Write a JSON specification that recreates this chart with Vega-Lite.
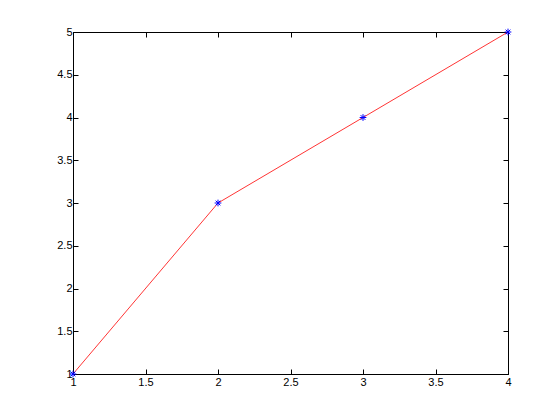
{
  "$schema": "https://vega.github.io/schema/vega-lite/v6.json",
  "autosize": "none",
  "padding": {"left": 73, "top": 32, "right": 52, "bottom": 46},
  "width": 435,
  "height": 342,
  "background": "white",
  "config": {
    "view": {"stroke": "black", "strokeWidth": 1},
    "axis": {
      "grid": false,
      "domainColor": "black",
      "tickColor": "black",
      "labelColor": "black",
      "labelFont": "Liberation Sans",
      "labelFontSize": 11,
      "tickSize": -5,
      "labelFlush": false,
      "labelOverlap": false,
      "format": "~g",
      "title": null
    }
  },
  "data": {"values": [
    {"x": 1, "y": 1},
    {"x": 2, "y": 3},
    {"x": 3, "y": 4},
    {"x": 4, "y": 5}
  ]},
  "layer": [
    {
      "mark": {"type": "line", "color": "#ff0000", "strokeWidth": 0.8},
      "encoding": {
        "x": {"field": "x", "type": "quantitative", "scale": {"domain": [1, 4], "nice": false, "zero": false},
              "axis": {"values": [1, 1.5, 2, 2.5, 3, 3.5, 4], "labelPadding": 7, "orient": "bottom", "format": "~g"}},
        "y": {"field": "y", "type": "quantitative", "scale": {"domain": [1, 5], "nice": false, "zero": false},
              "axis": {"values": [1, 1.5, 2, 2.5, 3, 3.5, 4, 4.5, 5], "labelPadding": 6, "orient": "left", "format": "~g"}}
      }
    },
    {
      "mark": {"type": "point", "shape": "M-1,0L1,0M0,-1L0,1M-0.7,-0.7L0.7,0.7M-0.7,0.7L0.7,-0.7", "filled": false, "color": "#0000ff", "size": 45, "strokeWidth": 1, "opacity": 1},
      "encoding": {
        "x": {"field": "x", "type": "quantitative",
              "axis": {"values": [1, 1.5, 2, 2.5, 3, 3.5, 4], "labels": false, "orient": "top"}},
        "y": {"field": "y", "type": "quantitative",
              "axis": {"values": [1, 1.5, 2, 2.5, 3, 3.5, 4, 4.5, 5], "labels": false, "orient": "right"}}
      }
    }
  ]
}
